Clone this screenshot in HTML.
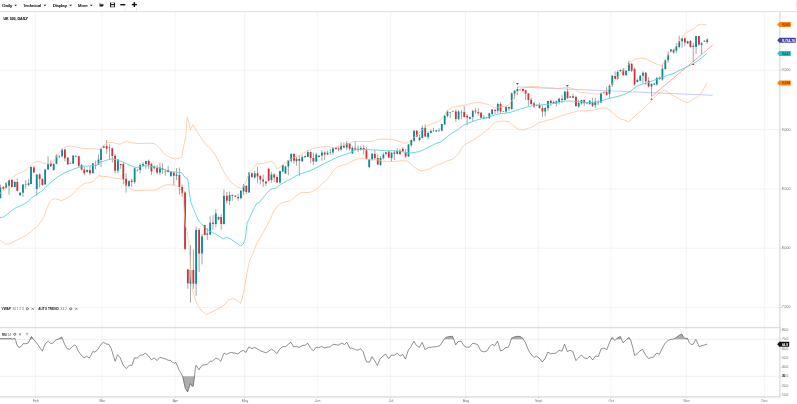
<!DOCTYPE html>
<html><head><meta charset="utf-8"><title>UK 100 Daily</title>
<style>html,body{margin:0;padding:0;background:#fff;overflow:hidden}body{width:797px;height:404px;position:relative;font-family:"Liberation Sans",sans-serif}</style></head>
<body>
<svg width="797" height="404" viewBox="0 0 797 404" style="position:absolute;left:0;top:0;font-family:'Liberation Sans',sans-serif;filter:blur(0.3px)">
<rect width="797" height="404" fill="#fff"/>
<line x1="35.4" y1="11.5" x2="35.4" y2="398" stroke="#ececec" stroke-width="0.6"/>
<line x1="102.1" y1="11.5" x2="102.1" y2="398" stroke="#ececec" stroke-width="0.6"/>
<line x1="175.2" y1="11.5" x2="175.2" y2="398" stroke="#ececec" stroke-width="0.6"/>
<line x1="244.7" y1="11.5" x2="244.7" y2="398" stroke="#ececec" stroke-width="0.6"/>
<line x1="317.4" y1="11.5" x2="317.4" y2="398" stroke="#ececec" stroke-width="0.6"/>
<line x1="390.7" y1="11.5" x2="390.7" y2="398" stroke="#ececec" stroke-width="0.6"/>
<line x1="465.5" y1="11.5" x2="465.5" y2="398" stroke="#ececec" stroke-width="0.6"/>
<line x1="538.3" y1="11.5" x2="538.3" y2="398" stroke="#ececec" stroke-width="0.6"/>
<line x1="610.8" y1="11.5" x2="610.8" y2="398" stroke="#ececec" stroke-width="0.6"/>
<line x1="686.3" y1="11.5" x2="686.3" y2="398" stroke="#ececec" stroke-width="0.6"/>
<line x1="764.4" y1="11.5" x2="764.4" y2="398" stroke="#ececec" stroke-width="0.6"/>
<line x1="0" y1="70.4" x2="779.85" y2="70.4" stroke="#ececec" stroke-width="0.6"/>
<line x1="0" y1="129.6" x2="779.85" y2="129.6" stroke="#ececec" stroke-width="0.6"/>
<line x1="0" y1="188.9" x2="779.85" y2="188.9" stroke="#ececec" stroke-width="0.6"/>
<line x1="0" y1="248.2" x2="779.85" y2="248.2" stroke="#ececec" stroke-width="0.6"/>
<line x1="0" y1="307.5" x2="779.85" y2="307.5" stroke="#ececec" stroke-width="0.6"/>
<line x1="0" y1="339.3" x2="779.85" y2="339.3" stroke="#e2e2e2" stroke-width="0.6"/>
<line x1="0" y1="376.3" x2="779.85" y2="376.3" stroke="#e2e2e2" stroke-width="0.6"/>
<line x1="0" y1="11.6" x2="797" y2="11.6" stroke="#d9d9d9" stroke-width="0.8"/>
<line x1="796.6" y1="1.2" x2="796.6" y2="9.4" stroke="#dcdcdc" stroke-width="0.7"/>
<line x1="779.85" y1="11.5" x2="779.85" y2="397" stroke="#dedede" stroke-width="1.4"/>
<line x1="0" y1="327.7" x2="780.5500000000001" y2="327.7" stroke="#d6d6d6" stroke-width="1.0"/>
<line x1="0" y1="396.8" x2="780.5500000000001" y2="396.8" stroke="#d9d9d9" stroke-width="1.2"/>
<line x1="517.4" y1="86.9" x2="712.7" y2="95.3" stroke="#bcc7f6" stroke-width="0.9"/>
<line x1="651.5" y1="96.6" x2="712.7" y2="45.1" stroke="#ff8080" stroke-width="0.7"/>
<path d="M0.38,184.5V198.3M3.39,185.8V190.2M6.02,182.0V188.9M9.03,179.5V194.5M11.92,178.9V187.6M14.81,180.7V187.6M17.31,178.2V191.4M20.08,192.0V195.4M22.96,183.9V197.1M25.72,180.1V188.9M28.61,178.9V186.4M30.99,166.3V183.9M33.88,165.7V173.2M36.76,174.5V195.8M39.65,173.2V187.6M42.41,178.2V185.8M45.17,168.8V184.5M48.06,156.3V170.1M50.82,160.7V166.9M53.70,163.8V170.7M56.46,154.4V164.4M59.35,155.0V158.2M62.11,148.7V157.5M64.87,148.7V161.3M67.75,157.5V164.4M70.26,162.5V164.1M73.15,155.6V163.8M75.91,155.0V157.5M78.80,155.6V166.9M81.56,163.8V170.7M84.32,166.9V175.1M87.20,169.4V172.6M89.96,166.3V175.1M92.85,163.2V173.2M95.61,160.7V169.4M98.49,154.4V165.1M101.00,148.8V167.0M103.76,145.7V148.2M106.65,140.0V153.8M109.54,144.4V159.5M112.30,147.5V162.6M115.06,153.6V173.3M117.94,159.5V173.6M120.70,163.6V168.9M123.34,162.6V184.4M126.10,173.3V192.6M128.98,180.2V186.3M131.74,178.9V186.9M134.63,167.4V183.9M137.39,168.9V171.4M140.15,163.2V173.6M143.04,162.0V166.4M145.92,160.7V168.9M148.68,159.5V168.9M151.44,163.2V174.9M154.20,165.1V169.5M157.09,165.1V174.5M159.97,162.6V175.2M162.48,163.2V173.9M165.24,168.9V175.8M168.13,165.7V172.6M170.89,171.4V176.4M173.78,172.0V185.1M176.54,168.2V180.2M179.41,167.5V194.4M182.17,184.4V196.9M185.06,191.0V250.0M187.82,268.8V288.8M190.45,245.1V302.6M193.34,249.4V288.8M196.10,226.9V295.8M199.11,228.2V271.9M201.99,233.8V264.5M204.76,225.0V235.1M207.26,228.2V240.1M210.15,216.4V235.2M213.04,215.1V229.6M215.80,209.1V227.1M218.56,216.4V220.2M221.19,213.9V229.9M223.95,189.4V224.5M226.84,191.9V203.8M229.60,191.5V205.1M232.36,194.8V200.7M235.24,195.1V197.3M238.13,193.8V200.7M240.89,190.0V199.4M243.59,183.9V194.9M246.35,185.2V193.9M249.11,172.4V192.7M251.87,172.6V177.6M254.76,170.7V178.9M257.52,167.0V183.3M260.28,175.1V184.5M263.16,174.5V187.0M265.92,180.8V185.8M268.68,168.2V181.4M271.44,172.0V182.6M274.20,173.2V182.0M277.09,175.1V182.6M279.97,170.7V183.9M282.74,165.1V172.0M285.50,165.7V174.1M288.38,160.1V175.1M291.14,153.2V162.6M294.03,153.2V163.8M296.54,156.9V165.7M299.30,155.7V176.4M302.18,155.0V161.9M305.07,155.7V157.5M307.83,150.0V156.9M310.63,151.3V163.2M313.39,152.6V165.1M316.27,152.6V162.0M319.03,155.1V157.6M321.92,150.1V160.7M324.68,151.3V160.1M327.57,150.7V155.1M330.33,148.8V155.1M332.96,146.9V154.5M335.97,146.9V149.4M338.61,146.9V151.3M341.12,142.5V150.7M343.88,142.5V148.2M346.76,141.0V150.1M349.65,143.2V150.7M352.41,146.3V153.8M355.17,141.0V150.1M358.06,145.7V152.0M360.82,145.7V150.7M363.70,145.1V154.5M366.46,146.9V159.5M369.22,158.9V168.3M372.11,153.2V160.7M374.87,150.1V159.5M377.75,154.5V165.1M380.51,156.3V165.8M383.40,152.6V159.5M385.91,152.0V155.1M388.80,151.3V158.2M391.56,152.3V161.4M394.32,150.1V160.1M397.20,148.2V154.5M399.96,148.8V155.1M402.85,146.9V152.0M405.61,148.8V158.2M408.49,144.1V157.0M411.29,139.5V147.0M414.05,130.1V142.0M416.81,130.1V137.0M419.57,134.5V141.4M422.33,125.7V138.2M425.22,124.4V137.0M428.11,131.3V139.5M430.87,129.5V133.2M433.50,127.6V132.0M436.26,130.1V131.9M439.02,128.2V132.0M441.78,123.8V131.3M444.67,115.0V125.1M447.43,110.0V117.5M450.19,111.9V118.2M452.95,110.6V112.0M455.83,109.4V121.9M458.59,110.0V120.1M461.48,109.8V118.8M464.24,106.3V117.5M467.13,114.0V125.7M469.89,116.5V119.4M472.77,109.4V121.3M475.53,108.1V113.8M478.29,108.1V115.7M481.05,111.9V118.6M483.81,115.0V119.4M486.57,116.9V118.6M489.34,112.8V118.8M492.13,108.9V114.9M495.02,108.9V113.9M497.78,102.6V113.3M500.54,102.0V113.3M503.43,110.8V112.0M506.06,106.4V113.3M508.95,106.4V110.8M511.71,92.6V109.9M514.59,90.1V98.8M517.35,86.9V95.1M520.11,88.6V90.3M522.87,88.6V92.6M525.63,89.8V100.1M528.39,93.2V105.7M531.15,97.6V105.1M534.04,101.6V107.9M536.80,104.5V106.4M539.56,102.9V108.6M542.45,105.1V117.0M545.21,107.0V116.4M547.97,100.7V110.8M550.85,99.5V105.7M553.61,100.7V103.9M556.37,100.7V106.4M559.13,97.6V104.5M562.02,95.1V103.2M564.91,91.3V100.7M567.54,88.6V98.8M570.30,96.1V98.1M573.06,93.8V98.2M575.95,95.7V107.0M578.71,100.1V108.2M581.47,99.8V104.5M584.23,99.5V106.1M586.99,102.6V104.5M589.75,100.1V105.1M592.55,97.7V107.1M595.31,97.7V108.2M598.19,100.2V105.2M600.95,92.6V103.3M603.84,91.4V93.9M606.60,87.0V95.8M609.49,84.5V97.7M612.25,75.1V87.0M615.13,71.3V79.5M617.64,70.1V79.5M620.40,69.4V71.9M623.29,68.2V75.7M626.05,70.1V75.7M628.93,60.6V71.3M631.69,63.2V71.9M634.58,67.5V85.7M637.34,78.2V82.6M640.23,75.1V81.3M642.99,71.3V83.9M645.75,71.9V85.1M648.63,77.0V87.4M651.52,83.2V96.4M654.28,82.9V85.1M656.79,77.3V85.7M659.67,76.3V80.1M662.43,65.0V80.7M665.32,59.4V70.1M668.19,51.4V62.7M670.95,48.9V52.0M673.59,48.9V53.9M676.35,43.2V53.2M679.23,35.7V48.2M682.12,37.6V47.6M684.88,37.6V46.3M687.64,40.7V43.8M690.40,40.1V47.6M693.29,43.2V62.0M696.05,36.1V53.9M698.93,36.1V45.7M701.57,42.0V54.1M704.33,40.3V42.0M707.21,38.2V43.6" stroke="#8f8f8f" stroke-width="0.8" fill="none"/>
<path d="M-0.52,187.6h1.8V198.3h-1.8ZM5.12,183.2h1.8V187.6h-1.8ZM8.13,180.1h1.8V185.8h-1.8ZM13.91,182.0h1.8V187.0h-1.8ZM19.18,192.7h1.8V195.2h-1.8ZM22.06,184.5h1.8V192.7h-1.8ZM27.71,183.2h1.8V185.1h-1.8ZM30.09,166.9h1.8V183.9h-1.8ZM35.86,174.5h1.8V188.9h-1.8ZM44.27,169.4h1.8V184.5h-1.8ZM47.16,163.8h1.8V169.4h-1.8ZM52.80,163.8h1.8V170.1h-1.8ZM55.56,155.6h1.8V163.8h-1.8ZM61.21,149.4h1.8V156.3h-1.8ZM72.25,155.6h1.8V163.8h-1.8ZM86.30,170.1h1.8V172.0h-1.8ZM91.95,163.2h1.8V173.2h-1.8ZM97.59,159.4h1.8V164.4h-1.8ZM100.10,148.8h1.8V160.1h-1.8ZM102.86,146.3h1.8V147.8h-1.8ZM117.04,159.5h1.8V170.8h-1.8ZM128.08,181.3h1.8V186.3h-1.8ZM133.73,168.2h1.8V181.9h-1.8ZM139.25,164.9h1.8V170.1h-1.8ZM142.14,163.9h1.8V165.7h-1.8ZM145.02,161.1h1.8V164.1h-1.8ZM159.07,167.6h1.8V172.6h-1.8ZM169.99,171.6h1.8V176.2h-1.8ZM175.64,174.5h1.8V175.8h-1.8ZM189.55,270.0h1.8V283.8h-1.8ZM195.20,230.0h1.8V283.7h-1.8ZM201.09,236.3h1.8V253.6h-1.8ZM206.36,233.6h1.8V234.8h-1.8ZM209.25,222.7h1.8V234.5h-1.8ZM214.90,213.6h1.8V223.9h-1.8ZM217.66,217.0h1.8V219.5h-1.8ZM223.05,195.7h1.8V223.9h-1.8ZM228.70,195.1h1.8V201.1h-1.8ZM231.46,194.8h1.8V195.8h-1.8ZM239.99,190.7h1.8V198.2h-1.8ZM242.69,185.8h1.8V191.4h-1.8ZM248.21,172.6h1.8V192.4h-1.8ZM253.86,173.2h1.8V177.6h-1.8ZM270.54,174.5h1.8V180.1h-1.8ZM279.07,171.1h1.8V182.4h-1.8ZM281.84,165.1h1.8V171.6h-1.8ZM284.60,166.6h1.8V173.6h-1.8ZM287.48,160.3h1.8V166.6h-1.8ZM290.24,154.0h1.8V160.7h-1.8ZM295.64,158.8h1.8V161.3h-1.8ZM301.28,156.9h1.8V161.3h-1.8ZM304.17,156.0h1.8V157.3h-1.8ZM306.93,151.9h1.8V156.9h-1.8ZM315.37,154.5h1.8V161.6h-1.8ZM318.13,155.7h1.8V157.0h-1.8ZM321.02,152.6h1.8V155.7h-1.8ZM326.67,152.8h1.8V154.5h-1.8ZM332.06,147.9h1.8V152.6h-1.8ZM340.22,145.7h1.8V149.4h-1.8ZM345.86,143.2h1.8V147.6h-1.8ZM351.51,147.8h1.8V153.6h-1.8ZM359.92,147.9h1.8V150.1h-1.8ZM368.32,159.5h1.8V167.0h-1.8ZM371.21,153.8h1.8V159.5h-1.8ZM379.61,157.9h1.8V164.9h-1.8ZM382.50,154.5h1.8V158.2h-1.8ZM385.01,152.3h1.8V154.1h-1.8ZM390.66,152.8h1.8V157.9h-1.8ZM396.30,151.1h1.8V154.1h-1.8ZM407.59,144.4h1.8V156.6h-1.8ZM410.39,140.1h1.8V145.2h-1.8ZM413.15,130.7h1.8V140.8h-1.8ZM418.67,137.4h1.8V140.1h-1.8ZM421.43,127.8h1.8V137.9h-1.8ZM427.21,132.9h1.8V137.0h-1.8ZM429.97,131.1h1.8V132.9h-1.8ZM435.36,130.3h1.8V131.6h-1.8ZM440.88,124.1h1.8V130.7h-1.8ZM443.77,115.7h1.8V124.4h-1.8ZM446.53,111.5h1.8V116.0h-1.8ZM457.69,111.5h1.8V119.1h-1.8ZM468.99,116.9h1.8V118.8h-1.8ZM471.87,111.0h1.8V116.9h-1.8ZM482.91,117.5h1.8V118.6h-1.8ZM488.44,113.2h1.8V118.2h-1.8ZM491.23,109.5h1.8V113.9h-1.8ZM496.88,104.1h1.8V110.8h-1.8ZM505.16,107.0h1.8V111.4h-1.8ZM510.81,93.2h1.8V108.9h-1.8ZM513.69,90.7h1.8V93.8h-1.8ZM516.45,89.1h1.8V91.3h-1.8ZM544.31,107.9h1.8V111.6h-1.8ZM547.07,101.1h1.8V108.2h-1.8ZM552.71,102.0h1.8V103.2h-1.8ZM555.47,101.3h1.8V103.6h-1.8ZM558.23,98.8h1.8V102.0h-1.8ZM564.01,91.6h1.8V100.1h-1.8ZM569.40,96.6h1.8V97.6h-1.8ZM577.81,102.9h1.8V106.4h-1.8ZM580.57,100.1h1.8V103.6h-1.8ZM588.85,100.7h1.8V103.9h-1.8ZM594.41,101.4h1.8V105.2h-1.8ZM600.05,93.3h1.8V102.4h-1.8ZM608.59,85.7h1.8V94.1h-1.8ZM611.35,75.7h1.8V85.1h-1.8ZM616.74,71.9h1.8V78.8h-1.8ZM619.50,70.1h1.8V71.3h-1.8ZM625.15,70.7h1.8V75.3h-1.8ZM628.03,63.2h1.8V71.1h-1.8ZM636.44,80.1h1.8V82.0h-1.8ZM639.33,75.7h1.8V80.7h-1.8ZM642.09,72.8h1.8V75.7h-1.8ZM650.62,83.9h1.8V86.4h-1.8ZM653.38,83.6h1.8V84.5h-1.8ZM655.89,77.8h1.8V84.5h-1.8ZM661.53,68.8h1.8V79.5h-1.8ZM664.42,60.0h1.8V69.1h-1.8ZM667.29,54.5h1.8V60.2h-1.8ZM670.05,49.5h1.8V51.4h-1.8ZM672.69,49.5h1.8V52.4h-1.8ZM675.45,46.3h1.8V50.7h-1.8ZM678.33,41.1h1.8V47.0h-1.8ZM681.22,38.6h1.8V41.3h-1.8ZM686.74,41.3h1.8V43.6h-1.8ZM692.39,45.7h1.8V47.0h-1.8ZM695.15,36.1h1.8V47.0h-1.8ZM700.67,43.2h1.8V45.1h-1.8ZM706.31,39.4h1.8V42.0h-1.8Z" fill="#0f8797"/>
<path d="M2.49,187.0h1.8V188.9h-1.8ZM11.02,180.1h1.8V187.0h-1.8ZM16.41,182.0h1.8V190.8h-1.8ZM32.98,167.6h1.8V172.6h-1.8ZM38.75,174.5h1.8V178.9h-1.8ZM41.51,178.9h1.8V185.1h-1.8ZM49.92,163.2h1.8V166.3h-1.8ZM63.97,149.4h1.8V158.2h-1.8ZM66.85,157.5h1.8V164.4h-1.8ZM77.90,156.3h1.8V165.7h-1.8ZM80.66,165.1h1.8V169.4h-1.8ZM83.42,169.4h1.8V173.2h-1.8ZM89.06,170.1h1.8V173.2h-1.8ZM105.75,146.0h1.8V148.8h-1.8ZM111.40,148.2h1.8V156.1h-1.8ZM114.16,155.7h1.8V170.8h-1.8ZM119.80,163.9h1.8V165.1h-1.8ZM122.44,164.1h1.8V179.4h-1.8ZM125.20,178.8h1.8V185.7h-1.8ZM130.84,180.7h1.8V181.9h-1.8ZM147.78,160.7h1.8V165.1h-1.8ZM150.54,164.1h1.8V171.4h-1.8ZM153.30,166.6h1.8V168.2h-1.8ZM156.19,167.9h1.8V172.6h-1.8ZM161.58,168.2h1.8V169.5h-1.8ZM167.23,170.1h1.8V172.0h-1.8ZM172.88,172.4h1.8V175.8h-1.8ZM178.51,175.0h1.8V186.9h-1.8ZM181.27,186.9h1.8V193.2h-1.8ZM184.16,192.5h1.8V248.9h-1.8ZM186.92,269.4h1.8V283.2h-1.8ZM192.44,270.0h1.8V283.8h-1.8ZM198.21,230.0h1.8V253.6h-1.8ZM203.86,225.0h1.8V235.1h-1.8ZM212.14,222.7h1.8V223.9h-1.8ZM220.29,217.0h1.8V223.9h-1.8ZM225.94,195.7h1.8V200.7h-1.8ZM234.34,195.7h1.8V196.7h-1.8ZM237.23,196.9h1.8V198.2h-1.8ZM245.45,185.8h1.8V192.1h-1.8ZM250.97,173.2h1.8V177.0h-1.8ZM256.62,173.2h1.8V176.4h-1.8ZM259.38,176.1h1.8V179.5h-1.8ZM262.26,179.5h1.8V181.6h-1.8ZM265.02,181.6h1.8V183.6h-1.8ZM267.78,168.8h1.8V180.8h-1.8ZM273.30,174.5h1.8V177.6h-1.8ZM276.19,177.0h1.8V182.4h-1.8ZM293.13,154.0h1.8V160.7h-1.8ZM298.40,159.1h1.8V160.7h-1.8ZM309.73,152.0h1.8V157.9h-1.8ZM312.49,157.9h1.8V161.6h-1.8ZM323.78,152.6h1.8V154.5h-1.8ZM335.07,147.8h1.8V149.1h-1.8ZM337.71,148.6h1.8V149.4h-1.8ZM342.98,145.7h1.8V147.6h-1.8ZM348.75,143.6h1.8V148.8h-1.8ZM354.27,148.2h1.8V149.4h-1.8ZM357.16,148.8h1.8V149.8h-1.8ZM362.80,147.9h1.8V150.1h-1.8ZM365.56,150.3h1.8V159.1h-1.8ZM373.97,154.1h1.8V158.2h-1.8ZM376.85,157.9h1.8V164.5h-1.8ZM387.90,151.6h1.8V157.6h-1.8ZM393.42,152.6h1.8V153.8h-1.8ZM399.06,150.7h1.8V154.1h-1.8ZM401.95,148.8h1.8V151.3h-1.8ZM404.71,152.6h1.8V156.6h-1.8ZM415.91,130.7h1.8V136.4h-1.8ZM424.32,127.8h1.8V136.4h-1.8ZM454.93,111.5h1.8V119.1h-1.8ZM463.34,111.9h1.8V116.9h-1.8ZM466.23,116.0h1.8V117.5h-1.8ZM474.63,110.6h1.8V111.5h-1.8ZM477.39,111.9h1.8V113.2h-1.8ZM480.15,112.8h1.8V117.8h-1.8ZM494.12,109.9h1.8V110.9h-1.8ZM499.64,103.9h1.8V111.6h-1.8ZM508.05,107.0h1.8V108.6h-1.8ZM521.97,89.1h1.8V91.1h-1.8ZM524.73,90.3h1.8V93.8h-1.8ZM527.49,93.6h1.8V100.1h-1.8ZM530.25,99.8h1.8V103.9h-1.8ZM533.14,103.2h1.8V106.4h-1.8ZM538.66,104.9h1.8V107.9h-1.8ZM541.55,107.9h1.8V111.6h-1.8ZM549.95,100.7h1.8V102.9h-1.8ZM561.12,98.8h1.8V100.1h-1.8ZM566.64,91.6h1.8V98.2h-1.8ZM572.16,96.3h1.8V97.8h-1.8ZM575.05,97.0h1.8V106.1h-1.8ZM583.33,100.1h1.8V103.2h-1.8ZM591.65,102.1h1.8V105.8h-1.8ZM605.70,92.0h1.8V94.9h-1.8ZM614.23,76.1h1.8V78.8h-1.8ZM622.39,69.8h1.8V75.3h-1.8ZM630.79,63.8h1.8V70.7h-1.8ZM633.68,69.1h1.8V84.5h-1.8ZM644.85,72.8h1.8V81.3h-1.8ZM647.73,80.7h1.8V86.4h-1.8ZM658.77,77.8h1.8V79.1h-1.8ZM683.98,38.2h1.8V42.6h-1.8ZM689.50,41.1h1.8V47.0h-1.8ZM698.03,36.1h1.8V44.5h-1.8ZM703.43,40.7h1.8V41.6h-1.8Z" fill="#cd333b"/>
<rect x="24.82" y="184.0" width="1.8" height="0.6" fill="#0f8797" opacity="0.75"/>
<rect x="58.45" y="156.3" width="1.8" height="0.6" fill="#0f8797" opacity="0.75"/>
<rect x="69.36" y="163.1" width="1.8" height="0.6" fill="#cd333b" opacity="0.75"/>
<rect x="75.01" y="156.0" width="1.8" height="0.6" fill="#0f8797" opacity="0.75"/>
<rect x="94.71" y="165.1" width="1.8" height="0.6" fill="#0f8797" opacity="0.75"/>
<rect x="108.64" y="147.5" width="1.8" height="0.6" fill="#cd333b" opacity="0.75"/>
<rect x="136.49" y="169.9" width="1.8" height="0.6" fill="#0f8797" opacity="0.75"/>
<rect x="164.34" y="171.5" width="1.8" height="0.6" fill="#cd333b" opacity="0.75"/>
<rect x="329.43" y="152.1" width="1.8" height="0.6" fill="#0f8797" opacity="0.75"/>
<rect x="432.60" y="130.5" width="1.8" height="0.6" fill="#0f8797" opacity="0.75"/>
<rect x="438.12" y="130.5" width="1.8" height="0.6" fill="#0f8797" opacity="0.75"/>
<rect x="449.29" y="112.0" width="1.8" height="0.6" fill="#0f8797" opacity="0.75"/>
<rect x="452.05" y="111.0" width="1.8" height="0.6" fill="#cd333b" opacity="0.75"/>
<rect x="460.58" y="112.0" width="1.8" height="0.6" fill="#0f8797" opacity="0.75"/>
<rect x="485.67" y="117.6" width="1.8" height="0.6" fill="#0f8797" opacity="0.75"/>
<rect x="502.53" y="111.1" width="1.8" height="0.6" fill="#0f8797" opacity="0.75"/>
<rect x="519.21" y="89.1" width="1.8" height="0.6" fill="#cd333b" opacity="0.75"/>
<rect x="535.90" y="105.1" width="1.8" height="0.6" fill="#cd333b" opacity="0.75"/>
<rect x="586.09" y="103.2" width="1.8" height="0.6" fill="#cd333b" opacity="0.75"/>
<rect x="597.29" y="102.5" width="1.8" height="0.6" fill="#0f8797" opacity="0.75"/>
<rect x="602.94" y="92.4" width="1.8" height="0.6" fill="#0f8797" opacity="0.75"/>
<path d="M0.0,193.9 L3.8,188.9 L7.5,181.4 L11.3,178.2 L16.3,174.5 L21.3,172.6 L26.3,170.1 L30.1,166.3 L33.9,162.5 L37.6,161.3 L41.4,162.3 L46.4,163.8 L50.2,163.8 L54.0,161.3 L56.5,156.3 L59.0,153.1 L61.5,150.0 L64.0,147.8 L67.8,146.3 L71.5,146.0 L76.5,147.3 L81.6,148.2 L86.6,148.8 L91.6,148.5 L96.6,149.0 L100.0,149.8 L100.0,148.2 L103.8,145.0 L107.5,142.8 L112.5,142.5 L116.3,143.5 L120.1,144.4 L123.2,142.5 L126.3,141.3 L130.1,142.3 L133.9,143.2 L138.9,143.5 L143.9,143.5 L148.9,143.2 L154.0,143.5 L157.1,145.7 L160.2,148.8 L164.0,153.8 L167.8,156.3 L171.5,157.8 L175.3,159.1 L179.0,158.2 L181.8,156.6 L182.9,150.2 L183.9,145.2 L185.8,136.4 L186.6,123.8 L187.4,117.3 L188.9,122.6 L190.4,129.8 L192.0,126.3 L193.3,124.4 L195.8,130.1 L200.2,136.4 L204.0,142.0 L207.1,145.8 L210.2,148.3 L214.6,153.9 L220.0,164.4 L225.0,173.9 L231.3,182.6 L237.6,187.0 L242.0,188.7 L244.5,185.2 L247.0,178.9 L250.1,172.0 L253.9,167.6 L257.0,163.8 L261.4,163.8 L266.4,162.8 L270.8,161.1 L274.0,163.2 L277.1,168.8 L280.2,167.0 L284.0,163.8 L289.0,160.1 L295.3,156.9 L301.6,154.4 L307.8,150.6 L314.1,148.1 L316.3,147.6 L322.5,146.9 L328.8,146.3 L332.0,148.2 L335.1,147.6 L341.4,145.7 L347.6,143.8 L353.9,141.5 L360.2,141.5 L366.5,141.5 L372.7,141.3 L377.8,139.4 L385.3,139.0 L391.6,139.4 L397.8,140.7 L402.8,142.5 L403.8,143.3 L407.5,142.6 L410.7,140.1 L413.8,137.6 L417.6,134.5 L421.3,130.7 L425.1,127.0 L430.1,124.4 L435.1,122.6 L440.0,120.8 L442.5,117.6 L445.6,113.2 L448.8,109.5 L452.5,107.3 L457.6,106.3 L462.6,105.7 L467.6,104.4 L472.6,103.2 L477.6,102.3 L482.7,103.2 L487.7,104.4 L491.4,106.3 L494.6,108.0 L497.7,107.6 L501.5,106.6 L505.2,106.6 L508.4,105.1 L510.3,102.6 L512.8,99.4 L515.3,95.7 L517.8,91.9 L520.3,89.4 L524.1,87.8 L527.8,86.9 L532.8,86.5 L535.2,86.5 L539.6,86.9 L542.7,87.8 L547.7,87.9 L552.7,87.9 L557.8,88.6 L561.5,88.2 L565.3,87.3 L569.0,87.5 L572.8,88.6 L576.6,90.7 L580.3,92.3 L585.0,92.6 L590.0,93.3 L595.1,93.9 L598.8,94.1 L602.0,92.6 L606.3,91.4 L609.5,88.2 L612.6,83.2 L616.4,78.8 L620.2,74.4 L623.9,70.1 L627.7,65.7 L630.2,62.5 L634.0,59.8 L637.7,58.5 L641.5,58.1 L645.2,58.8 L650.3,61.0 L655.0,63.3 L659.4,65.2 L661.9,65.4 L663.8,62.7 L666.3,57.6 L668.8,53.9 L672.0,51.4 L675.1,47.6 L677.6,43.8 L680.7,38.8 L683.9,34.4 L687.6,31.9 L691.4,30.0 L693.9,28.8 L696.4,26.3 L698.9,24.8 L701.4,24.0 L704.0,25.0 L706.5,24.4" fill="none" stroke="#ffc094" stroke-width="0.75" stroke-linejoin="round"/>
<path d="M0.0,239.5 L2.5,242.4 L5.6,243.9 L8.8,244.2 L11.9,242.7 L16.3,240.4 L21.3,237.9 L25.1,236.2 L28.2,233.6 L31.4,231.4 L34.5,228.2 L36.4,227.6 L38.9,224.5 L42.0,220.1 L44.5,215.1 L47.1,208.2 L49.6,201.9 L52.1,199.4 L55.2,198.8 L58.3,199.6 L61.5,200.6 L65.2,199.0 L69.0,196.9 L72.8,193.9 L77.8,188.9 L81.6,185.1 L85.3,183.2 L90.3,182.6 L94.1,180.7 L97.2,177.0 L100.0,175.1 L100.0,176.3 L106.3,176.5 L112.5,177.8 L118.8,178.8 L122.6,179.4 L125.1,183.8 L128.9,187.5 L132.6,189.8 L137.6,190.7 L143.9,190.3 L150.2,190.1 L155.2,190.3 L159.0,188.2 L162.7,186.0 L166.5,184.8 L170.3,184.8 L175.3,185.3 L179.0,186.9 L181.6,191.3 L183.4,200.1 L184.3,212.6 L185.3,225.0 L186.9,230.0 L188.8,245.1 L190.1,257.6 L190.7,277.5 L192.6,290.1 L195.1,298.9 L198.2,306.4 L202.0,311.4 L206.4,314.6 L210.2,312.7 L215.2,310.2 L220.2,307.7 L224.0,305.2 L226.5,302.0 L229.6,299.5 L232.7,298.6 L235.9,299.5 L238.4,301.4 L240.5,303.6 L242.1,298.9 L244.0,290.1 L245.9,278.8 L247.5,270.0 L249.0,262.7 L251.6,256.4 L254.1,250.1 L257.2,242.6 L260.3,237.6 L263.5,231.9 L266.6,226.3 L269.6,220.6 L272.0,215.2 L274.5,210.2 L277.0,206.4 L280.1,203.9 L283.2,202.4 L287.0,201.4 L290.2,201.1 L293.3,198.2 L297.1,195.1 L300.8,192.6 L305.2,192.6 L310.2,192.3 L314.0,190.7 L317.8,188.2 L322.1,183.8 L326.5,180.0 L326.9,179.9 L330.1,175.2 L333.8,170.2 L337.6,167.0 L342.6,165.1 L347.6,163.9 L352.7,160.7 L357.7,158.9 L362.7,158.2 L367.7,159.1 L372.7,159.5 L377.8,159.9 L382.8,161.1 L387.8,161.4 L392.8,161.6 L396.3,161.3 L402.5,160.7 L407.6,161.1 L410.1,163.2 L413.2,166.4 L417.0,168.9 L421.4,170.8 L425.8,169.9 L430.2,168.6 L433.9,166.4 L438.3,164.5 L442.7,163.2 L447.7,160.7 L452.1,159.5 L455.2,157.0 L459.0,153.2 L462.1,147.5 L465.3,144.0 L469.0,142.5 L471.5,140.8 L476.5,137.9 L481.6,134.5 L486.6,130.1 L490.0,127.4 L492.5,124.5 L495.0,122.3 L498.8,121.3 L503.8,121.1 L508.8,121.6 L512.0,124.5 L515.1,127.0 L518.9,129.5 L522.6,129.9 L526.4,128.9 L530.2,127.6 L533.9,126.1 L538.3,122.8 L542.7,121.6 L547.7,120.1 L552.7,119.1 L557.8,116.9 L562.8,115.3 L567.8,113.8 L572.8,112.3 L577.8,111.0 L583.1,110.8 L586.3,110.7 L592.5,110.1 L596.3,109.5 L599.4,108.2 L603.2,108.0 L607.0,108.2 L610.1,110.7 L613.9,113.9 L617.6,117.0 L620.8,119.1 L624.5,120.1 L628.3,121.6 L631.4,119.5 L635.2,115.7 L639.0,112.4 L642.7,109.5 L646.5,105.7 L650.3,101.9 L654.0,97.5 L657.8,94.0 L661.6,91.5 L664.7,90.3 L667.8,91.9 L671.6,94.8 L676.6,97.5 L680.0,99.1 L683.2,101.2 L687.0,102.7 L690.2,101.2 L693.9,99.1 L697.7,97.0 L700.2,94.5 L702.7,90.7 L705.2,86.3 L706.8,82.8" fill="none" stroke="#ffc094" stroke-width="0.75" stroke-linejoin="round"/>
<path d="M0.0,217.3 L3.1,217.3 L6.3,215.1 L9.4,212.3 L12.5,209.8 L16.3,207.5 L21.3,205.3 L25.1,203.5 L28.9,200.6 L32.0,197.5 L33.9,196.4 L37.6,193.7 L41.4,191.4 L45.2,187.6 L48.9,183.9 L52.7,180.7 L57.7,177.0 L62.7,173.8 L67.8,171.3 L72.8,169.4 L77.8,167.6 L82.8,166.3 L87.8,166.1 L92.8,165.7 L96.6,165.1 L100.0,162.0 L103.8,161.1 L107.5,159.8 L111.3,159.1 L115.1,159.5 L118.8,160.7 L122.6,162.0 L126.3,163.6 L130.1,165.4 L133.9,167.0 L137.6,167.4 L141.4,166.4 L145.2,165.7 L148.9,166.1 L152.7,166.6 L156.5,167.4 L160.2,168.2 L164.0,169.5 L167.8,170.8 L171.5,171.6 L175.3,172.1 L179.0,172.4 L181.6,172.6 L183.4,175.2 L185.3,177.7 L187.2,178.3 L188.2,181.4 L188.5,183.8 L189.7,195.0 L191.0,202.6 L193.5,208.9 L196.6,216.4 L198.2,220.0 L201.4,223.8 L205.1,227.5 L208.9,230.7 L212.7,232.5 L216.4,234.4 L220.2,236.9 L223.3,238.8 L226.5,237.2 L230.2,238.8 L234.0,241.3 L237.8,243.8 L240.9,246.1 L243.4,243.8 L245.3,238.8 L246.2,231.3 L247.2,222.7 L250.0,217.1 L251.9,212.7 L254.4,207.6 L256.9,203.2 L259.4,202.4 L262.5,198.2 L266.3,193.8 L270.1,189.8 L272.6,188.6 L276.3,187.8 L280.1,184.8 L283.9,182.5 L287.6,180.7 L291.4,178.8 L295.2,176.3 L298.9,174.4 L302.7,173.1 L307.7,171.5 L310.0,170.8 L315.0,168.3 L320.0,165.8 L325.1,163.2 L330.1,160.7 L335.1,158.2 L340.1,156.3 L345.1,154.5 L350.2,152.6 L353.3,150.7 L356.4,149.8 L362.7,149.4 L370.2,149.8 L377.8,150.1 L385.3,150.7 L392.8,150.7 L400.3,151.3 L405.0,152.4 L410.0,152.9 L415.1,152.4 L420.1,151.4 L425.1,148.9 L430.1,146.4 L435.1,143.9 L440.2,142.0 L443.9,139.5 L447.7,136.4 L451.4,133.6 L455.2,131.3 L459.0,128.8 L462.7,125.7 L466.5,123.8 L471.5,121.9 L476.5,120.1 L481.6,118.8 L487.8,117.5 L490.0,116.4 L495.0,114.9 L500.0,113.6 L505.1,113.3 L510.1,112.4 L515.1,110.8 L520.1,109.1 L525.1,107.6 L530.2,106.1 L535.2,105.1 L540.2,104.9 L545.2,104.6 L550.2,104.1 L555.2,103.2 L560.3,102.0 L565.3,101.1 L570.3,101.1 L575.3,101.3 L580.3,101.6 L585.0,102.4 L590.0,102.7 L595.1,102.4 L600.1,101.4 L605.1,99.5 L610.1,98.3 L615.1,97.0 L620.2,95.8 L625.2,94.1 L630.2,91.4 L634.0,88.2 L637.7,85.7 L642.7,84.1 L647.8,82.9 L652.8,80.7 L657.8,78.8 L662.8,77.0 L667.8,75.1 L672.8,73.8 L676.6,71.9 L680.0,70.1 L686.3,67.2 L692.3,64.2 L697.3,61.2 L702.3,57.2 L706.7,53.6" fill="none" stroke="#58d5d5" stroke-width="0.9" stroke-linejoin="round"/>
<path d="M516.0,82.9h2.8L517.4,84.9Z" fill="#118c11"/>
<path d="M566.0,85.0h2.8L567.4,87.0Z" fill="#118c11"/>
<path d="M650.3,99.8h2.4L651.5,98.0Z" fill="#f0141e"/>
<path d="M692.1,65.1h2.4L693.3,63.3Z" fill="#f0141e"/>
<path d="M0.0,339.3 L0.0,338.7 L11.3,338.7 L12.5,339.0 L14.8,338.3 L15.2,339.3Z" fill="#adadad"/>
<path d="M30.1,339.3 L31.4,336.5 L32.9,338.7 L33.4,339.3Z" fill="#adadad"/>
<path d="M58.0,339.3 L59.0,339.0 L61.5,337.0 L62.7,339.3 L62.7,339.3Z" fill="#adadad"/>
<path d="M444.0,339.3 L444.4,338.7 L446.9,337.0 L450.0,336.5 L452.5,336.3 L453.8,339.3 L453.8,339.3Z" fill="#adadad"/>
<path d="M511.2,339.3 L511.5,338.3 L514.0,337.0 L517.2,336.3 L520.3,336.5 L522.8,338.3 L523.4,339.3Z" fill="#adadad"/>
<path d="M611.2,339.3 L612.1,337.4 L613.8,339.3Z" fill="#adadad"/>
<path d="M616.1,339.3 L617.5,337.8 L620.3,336.5 L621.5,339.3Z" fill="#adadad"/>
<path d="M626.9,339.3 L628.8,337.4 L630.2,339.3Z" fill="#adadad"/>
<path d="M671.3,339.3 L671.4,339.3 L673.9,339.0 L676.4,337.4 L679.1,335.3 L681.7,334.0 L683.7,337.4 L685.4,338.7 L687.4,338.3 L687.9,339.3Z" fill="#adadad"/>
<path d="M695.8,339.3 L695.8,339.3 L695.8,339.3Z" fill="#adadad"/>
<path d="M182.5,376.3 L182.8,377.0 L184.1,383.2 L185.3,388.3 L187.6,392.0 L189.1,387.6 L190.3,383.6 L191.6,385.8 L193.2,386.4 L194.5,377.0 L194.5,376.3Z" fill="#adadad"/>
<path d="M0.0,338.7 L11.3,338.7 L12.5,339.0 L14.8,338.3 L15.7,340.5 L16.9,344.9 L18.8,347.4 L20.7,346.8 L23.2,343.7 L25.7,343.7 L28.2,343.1 L29.9,339.9 L31.4,336.5 L32.9,338.7 L35.1,341.2 L37.6,344.3 L40.2,348.1 L42.4,351.2 L43.9,346.8 L45.8,343.1 L48.3,341.2 L50.8,343.7 L53.3,342.8 L55.8,339.9 L59.0,339.0 L61.5,337.0 L62.7,339.3 L64.6,344.3 L67.1,348.7 L69.6,349.3 L72.1,346.8 L74.7,344.9 L76.3,346.2 L78.4,351.2 L80.9,354.6 L84.1,357.9 L86.6,356.2 L89.3,358.1 L91.0,355.0 L92.8,351.6 L94.7,352.1 L97.2,350.3 L99.1,347.4 L100.0,346.0 L101.5,343.8 L103.5,342.3 L106.3,344.0 L109.0,344.4 L111.3,348.8 L113.2,355.1 L115.1,361.3 L117.6,354.8 L120.1,357.6 L123.2,365.1 L126.3,368.6 L129.5,365.1 L132.0,365.4 L134.5,357.8 L137.0,358.2 L140.2,355.3 L142.7,354.8 L145.4,353.2 L148.3,355.7 L151.4,359.8 L154.2,358.0 L157.1,360.5 L160.0,357.3 L162.7,358.2 L165.9,359.1 L168.8,360.5 L170.0,360.0 L172.5,362.3 L174.4,363.2 L176.0,362.5 L177.5,366.3 L179.4,370.7 L181.5,373.8 L182.8,377.0 L184.1,383.2 L185.3,388.3 L187.6,392.0 L189.1,387.6 L190.3,383.6 L191.6,385.8 L193.2,386.4 L194.5,377.0 L195.3,368.8 L196.1,365.3 L197.6,367.6 L198.9,369.8 L200.7,366.9 L202.6,365.1 L207.0,364.4 L210.2,361.5 L212.7,361.0 L215.8,358.2 L218.3,359.0 L220.8,361.3 L222.7,356.3 L224.2,353.1 L226.5,354.4 L229.0,353.1 L231.5,352.5 L234.6,353.1 L237.8,354.0 L240.0,352.1 L243.1,350.3 L246.0,352.5 L247.5,349.3 L249.0,346.8 L251.9,348.7 L254.8,347.4 L257.6,349.1 L260.7,350.8 L263.2,351.8 L265.7,352.8 L268.2,351.6 L271.4,349.1 L273.9,350.6 L277.0,353.7 L279.5,349.3 L282.7,346.6 L285.4,346.8 L288.3,344.3 L290.8,342.2 L293.7,346.8 L296.5,346.6 L299.2,347.4 L302.1,345.6 L305.0,345.3 L307.8,343.3 L310.5,348.1 L313.4,350.8 L315.9,347.4 L318.4,347.8 L321.6,346.4 L324.3,347.8 L327.2,347.2 L330.3,346.8 L333.1,344.3 L336.0,344.6 L337.9,345.3 L340.0,344.1 L341.9,343.1 L344.4,344.6 L346.9,342.2 L349.8,348.1 L352.5,348.3 L355.3,349.6 L357.8,350.3 L360.7,348.7 L363.2,351.8 L365.1,358.1 L366.6,361.9 L369.5,362.1 L372.0,356.6 L374.5,360.6 L377.4,365.4 L380.2,358.7 L382.9,356.2 L385.8,354.1 L388.7,358.7 L391.4,355.0 L394.2,355.4 L397.1,353.1 L400.0,356.2 L402.5,354.3 L405.5,359.1 L408.4,350.0 L410.9,346.8 L413.8,341.2 L416.5,345.6 L419.3,347.4 L422.2,342.4 L425.1,349.6 L428.5,347.4 L432.8,347.1 L436.6,346.6 L440.0,345.6 L442.3,342.1 L444.4,338.7 L446.9,337.0 L450.0,336.5 L452.5,336.3 L453.8,339.3 L455.7,344.9 L458.2,341.6 L461.1,341.2 L463.8,345.6 L466.3,347.1 L469.5,347.1 L472.6,343.3 L475.1,343.7 L477.6,344.6 L480.8,350.8 L483.9,351.8 L486.7,351.2 L489.6,346.8 L492.1,344.3 L494.6,345.8 L497.5,341.2 L499.0,345.6 L500.5,350.8 L502.7,350.3 L505.2,347.8 L508.4,347.1 L510.0,343.1 L511.5,338.3 L514.0,337.0 L517.2,336.3 L520.3,336.5 L522.8,338.3 L525.3,342.4 L527.8,348.7 L529.7,352.5 L532.2,355.6 L534.1,357.5 L536.4,356.2 L538.5,357.5 L540.0,359.1 L542.3,361.9 L545.0,358.7 L547.8,352.1 L550.7,353.7 L553.2,353.5 L556.1,353.1 L559.1,350.3 L562.0,351.2 L564.5,344.1 L567.4,351.6 L570.1,350.3 L572.9,351.6 L575.8,360.6 L578.6,357.9 L581.4,355.0 L584.2,357.9 L587.1,358.5 L589.9,356.2 L592.7,360.0 L595.5,355.9 L598.3,356.6 L601.2,348.7 L604.0,348.1 L606.8,349.6 L609.6,342.4 L612.1,337.4 L614.9,340.5 L617.5,337.8 L620.3,336.5 L623.1,342.8 L625.9,340.3 L628.8,337.4 L630.6,339.9 L632.6,346.8 L634.7,355.6 L637.2,353.7 L640.0,350.8 L642.5,349.3 L645.6,355.0 L648.5,358.5 L651.3,357.5 L653.6,357.1 L656.6,353.1 L659.4,354.3 L662.3,348.1 L665.1,343.1 L668.2,340.3 L671.4,339.3 L673.9,339.0 L676.4,337.4 L679.1,335.3 L681.7,334.0 L683.7,337.4 L685.4,338.7 L687.4,338.3 L689.2,342.4 L691.2,344.6 L693.3,344.1 L695.8,339.3 L697.5,342.8 L699.2,346.6 L702.1,345.6 L704.6,344.9 L707.1,344.1" fill="none" stroke="#4a4a4a" stroke-width="0.62" stroke-linejoin="round"/>
<line x1="779.85" y1="70.4" x2="781.45" y2="70.4" stroke="#bbb" stroke-width="0.5"/>
<text transform="translate(781.7,71.30000000000001) scale(0.05)" font-size="72.0" fill="#666" font-weight="normal" text-anchor="start" textLength="174.0" lengthAdjust="spacingAndGlyphs" >9,500</text>
<line x1="779.85" y1="129.6" x2="781.45" y2="129.6" stroke="#bbb" stroke-width="0.5"/>
<text transform="translate(781.7,130.5) scale(0.05)" font-size="72.0" fill="#666" font-weight="normal" text-anchor="start" textLength="174.0" lengthAdjust="spacingAndGlyphs" >9,000</text>
<line x1="779.85" y1="188.9" x2="781.45" y2="188.9" stroke="#bbb" stroke-width="0.5"/>
<text transform="translate(781.7,189.8) scale(0.05)" font-size="72.0" fill="#666" font-weight="normal" text-anchor="start" textLength="174.0" lengthAdjust="spacingAndGlyphs" >8,500</text>
<line x1="779.85" y1="248.2" x2="781.45" y2="248.2" stroke="#bbb" stroke-width="0.5"/>
<text transform="translate(781.7,249.1) scale(0.05)" font-size="72.0" fill="#666" font-weight="normal" text-anchor="start" textLength="174.0" lengthAdjust="spacingAndGlyphs" >8,000</text>
<line x1="779.85" y1="307.5" x2="781.45" y2="307.5" stroke="#bbb" stroke-width="0.5"/>
<text transform="translate(781.7,308.4) scale(0.05)" font-size="72.0" fill="#666" font-weight="normal" text-anchor="start" textLength="174.0" lengthAdjust="spacingAndGlyphs" >7,500</text>
<line x1="779.85" y1="330.1" x2="781.45" y2="330.1" stroke="#bbb" stroke-width="0.5"/>
<text transform="translate(781.9,331.1) scale(0.05)" font-size="72.0" fill="#666" font-weight="normal" text-anchor="start" textLength="128.0" lengthAdjust="spacingAndGlyphs" >80.0</text>
<line x1="779.85" y1="339.3" x2="781.45" y2="339.3" stroke="#bbb" stroke-width="0.5"/>
<text transform="translate(781.9,340.3) scale(0.05)" font-size="72.0" fill="#666" font-weight="normal" text-anchor="start" textLength="128.0" lengthAdjust="spacingAndGlyphs" >70.0</text>
<line x1="779.85" y1="348.6" x2="781.45" y2="348.6" stroke="#bbb" stroke-width="0.5"/>
<text transform="translate(781.9,349.6) scale(0.05)" font-size="72.0" fill="#666" font-weight="normal" text-anchor="start" textLength="128.0" lengthAdjust="spacingAndGlyphs" >60.0</text>
<line x1="779.85" y1="357.8" x2="781.45" y2="357.8" stroke="#bbb" stroke-width="0.5"/>
<text transform="translate(781.9,358.8) scale(0.05)" font-size="72.0" fill="#666" font-weight="normal" text-anchor="start" textLength="128.0" lengthAdjust="spacingAndGlyphs" >50.0</text>
<line x1="779.85" y1="367.1" x2="781.45" y2="367.1" stroke="#bbb" stroke-width="0.5"/>
<text transform="translate(781.9,368.1) scale(0.05)" font-size="72.0" fill="#666" font-weight="normal" text-anchor="start" textLength="128.0" lengthAdjust="spacingAndGlyphs" >40.0</text>
<line x1="779.85" y1="376.3" x2="781.45" y2="376.3" stroke="#bbb" stroke-width="0.5"/>
<text transform="translate(781.9,377.3) scale(0.05)" font-size="72.0" fill="#666" font-weight="normal" text-anchor="start" textLength="128.0" lengthAdjust="spacingAndGlyphs" >30.0</text>
<line x1="779.85" y1="385.6" x2="781.45" y2="385.6" stroke="#bbb" stroke-width="0.5"/>
<text transform="translate(781.9,386.6) scale(0.05)" font-size="72.0" fill="#666" font-weight="normal" text-anchor="start" textLength="128.0" lengthAdjust="spacingAndGlyphs" >20.0</text>
<line x1="779.85" y1="394.8" x2="781.45" y2="394.8" stroke="#bbb" stroke-width="0.5"/>
<text transform="translate(781.9,395.8) scale(0.05)" font-size="72.0" fill="#666" font-weight="normal" text-anchor="start" textLength="128.0" lengthAdjust="spacingAndGlyphs" >10.0</text>
<text transform="translate(781.9,377.3) scale(0.05)" font-size="72.0" fill="#333" font-weight="bold" text-anchor="start" textLength="64.0" lengthAdjust="spacingAndGlyphs" >30</text>
<text transform="translate(35.699999999999996,402.0) scale(0.05)" font-size="70.0" fill="#707070" font-weight="normal" text-anchor="middle" >Feb</text>
<line x1="35.4" y1="397" x2="35.4" y2="398.6" stroke="#c4c4c4" stroke-width="0.5"/>
<text transform="translate(102.39999999999999,402.0) scale(0.05)" font-size="70.0" fill="#707070" font-weight="normal" text-anchor="middle" >Mar</text>
<line x1="102.1" y1="397" x2="102.1" y2="398.6" stroke="#c4c4c4" stroke-width="0.5"/>
<text transform="translate(175.5,402.0) scale(0.05)" font-size="70.0" fill="#707070" font-weight="normal" text-anchor="middle" >Apr</text>
<line x1="175.2" y1="397" x2="175.2" y2="398.6" stroke="#c4c4c4" stroke-width="0.5"/>
<text transform="translate(245.0,402.0) scale(0.05)" font-size="70.0" fill="#707070" font-weight="normal" text-anchor="middle" >May</text>
<line x1="244.7" y1="397" x2="244.7" y2="398.6" stroke="#c4c4c4" stroke-width="0.5"/>
<text transform="translate(317.7,402.0) scale(0.05)" font-size="70.0" fill="#707070" font-weight="normal" text-anchor="middle" >Jun</text>
<line x1="317.4" y1="397" x2="317.4" y2="398.6" stroke="#c4c4c4" stroke-width="0.5"/>
<text transform="translate(391.0,402.0) scale(0.05)" font-size="70.0" fill="#707070" font-weight="normal" text-anchor="middle" >Jul</text>
<line x1="390.7" y1="397" x2="390.7" y2="398.6" stroke="#c4c4c4" stroke-width="0.5"/>
<text transform="translate(465.8,402.0) scale(0.05)" font-size="70.0" fill="#707070" font-weight="normal" text-anchor="middle" >Aug</text>
<line x1="465.5" y1="397" x2="465.5" y2="398.6" stroke="#c4c4c4" stroke-width="0.5"/>
<text transform="translate(538.5999999999999,402.0) scale(0.05)" font-size="70.0" fill="#707070" font-weight="normal" text-anchor="middle" >Sept</text>
<line x1="538.3" y1="397" x2="538.3" y2="398.6" stroke="#c4c4c4" stroke-width="0.5"/>
<text transform="translate(611.0999999999999,402.0) scale(0.05)" font-size="70.0" fill="#707070" font-weight="normal" text-anchor="middle" >Oct</text>
<line x1="610.8" y1="397" x2="610.8" y2="398.6" stroke="#c4c4c4" stroke-width="0.5"/>
<text transform="translate(686.5999999999999,402.0) scale(0.05)" font-size="70.0" fill="#707070" font-weight="normal" text-anchor="middle" >Nov</text>
<line x1="686.3" y1="397" x2="686.3" y2="398.6" stroke="#c4c4c4" stroke-width="0.5"/>
<text transform="translate(764.6999999999999,402.0) scale(0.05)" font-size="70.0" fill="#707070" font-weight="normal" text-anchor="middle" >Dec</text>
<line x1="764.4" y1="397" x2="764.4" y2="398.6" stroke="#c4c4c4" stroke-width="0.5"/>
<path d="M777.2,24.5L779.4,22.0H790.4Q790.9,22.0 790.9,22.5V26.5Q790.9,27.0 790.4,27.0H779.4Z" fill="#ff8105"/><text transform="translate(781.9,25.8) scale(0.05)" font-size="74.0" fill="#8a3d00" font-weight="normal" text-anchor="start" textLength="162.0" lengthAdjust="spacingAndGlyphs" stroke="#8a3d00" stroke-width="2.0" >9,888</text>
<path d="M777.2,40.35L779.4,37.85H795.3Q795.8,37.85 795.8,38.35V42.35Q795.8,42.85 795.3,42.85H779.4Z" fill="#4a43a6"/><text transform="translate(781.9,41.65) scale(0.05)" font-size="74.0" fill="#fff" font-weight="normal" text-anchor="start" textLength="262.0" lengthAdjust="spacingAndGlyphs" stroke="#fff" stroke-width="2.0" >9,734.70</text>
<path d="M777.2,53.6L779.4,51.1H790.4Q790.9,51.1 790.9,51.6V55.6Q790.9,56.1 790.4,56.1H779.4Z" fill="#27c2c4"/><text transform="translate(781.9,54.9) scale(0.05)" font-size="74.0" fill="#0a5a5c" font-weight="normal" text-anchor="start" textLength="162.0" lengthAdjust="spacingAndGlyphs" stroke="#0a5a5c" stroke-width="2.0" >9,641</text>
<path d="M777.2,82.9L779.4,80.4H790.4Q790.9,80.4 790.9,80.9V84.9Q790.9,85.4 790.4,85.4H779.4Z" fill="#ff8105"/><text transform="translate(781.9,84.2) scale(0.05)" font-size="74.0" fill="#8a3d00" font-weight="normal" text-anchor="start" textLength="162.0" lengthAdjust="spacingAndGlyphs" stroke="#8a3d00" stroke-width="2.0" >9,394</text>
<path d="M777.2,344.2L779.4,341.75H788.7Q789.2,341.75 789.2,342.25V346.15Q789.2,346.65 788.7,346.65H779.4Z" fill="#111"/><text transform="translate(781.9,345.5) scale(0.05)" font-size="74.0" fill="#fff" font-weight="normal" text-anchor="start" textLength="120.0" lengthAdjust="spacingAndGlyphs" stroke="#fff" stroke-width="2.0" >64.9</text>
<text transform="translate(2.3,6.6) scale(0.05)" font-size="82.0" fill="#222" font-weight="normal" text-anchor="start" textLength="198.0" lengthAdjust="spacingAndGlyphs" stroke="#222" stroke-width="3.4000000000000004" >Daily</text>
<path d="M14.200000000000001,4.7h2.9l-1.45,1.6Z" fill="#2a2a2a"/>
<text transform="translate(23.0,6.6) scale(0.05)" font-size="82.0" fill="#222" font-weight="normal" text-anchor="start" textLength="360.0" lengthAdjust="spacingAndGlyphs" stroke="#222" stroke-width="3.4000000000000004" >Technical</text>
<path d="M43.5,4.7h2.9l-1.45,1.6Z" fill="#2a2a2a"/>
<text transform="translate(52.7,6.6) scale(0.05)" font-size="82.0" fill="#222" font-weight="normal" text-anchor="start" textLength="282.0" lengthAdjust="spacingAndGlyphs" stroke="#222" stroke-width="3.4000000000000004" >Display</text>
<path d="M69.2,4.7h2.9l-1.45,1.6Z" fill="#2a2a2a"/>
<text transform="translate(78.1,6.6) scale(0.05)" font-size="82.0" fill="#222" font-weight="normal" text-anchor="start" textLength="188.0" lengthAdjust="spacingAndGlyphs" stroke="#222" stroke-width="3.4000000000000004" >More</text>
<path d="M89.9,4.7h2.9l-1.45,1.6Z" fill="#2a2a2a"/>
<path d="M99.2,3.2h1.5l0.4,0.5h1.6v2.0h-3.5Z" fill="#8a8a8a"/><path d="M99.3,6.6l1.3,-2.2h3.4l-1.3,2.2Z" fill="#1a1a1a"/>
<path d="M110.0,2.5h4.3l0.8,0.8v3.9h-5.1Z" fill="#222"/><rect x="111.2" y="2.5" width="2.6" height="1.5" fill="#fff"/><rect x="111.0" y="5.2" width="3.1" height="1.4" fill="#fff"/>
<rect x="120.3" y="4.0" width="5.0" height="1.4" fill="#111"/>
<rect x="131.8" y="3.9" width="5.1" height="1.4" fill="#111"/><rect x="133.65" y="2.1" width="1.4" height="4.9" fill="#111"/>
<line x1="125" y1="8.2" x2="125" y2="11.3" stroke="#d8d8d8" stroke-width="0.5"/><line x1="136.5" y1="8.2" x2="136.5" y2="11.3" stroke="#d8d8d8" stroke-width="0.5"/>
<text transform="translate(3.5,20.45) scale(0.05)" font-size="78.0" fill="#222" font-weight="bold" text-anchor="start" textLength="488.0" lengthAdjust="spacingAndGlyphs" stroke="#222" stroke-width="2.4" >UK 100, DAILY</text>
<text transform="translate(1.5,310.0) scale(0.05)" font-size="70.0" fill="#222" font-weight="bold" text-anchor="start" textLength="190.0" lengthAdjust="spacingAndGlyphs" >VWAP</text>
<text transform="translate(12.5,310.0) scale(0.05)" font-size="70.0" fill="#5c5c5c" font-weight="normal" text-anchor="start" textLength="226.0" lengthAdjust="spacingAndGlyphs" >20 1 2 3</text>
<circle cx="27.4" cy="308.8" r="1.05" fill="none" stroke="#444" stroke-width="0.7"/>
<path d="M31.55,307.75l2.1,2.1M33.65,307.75l-2.1,2.1" stroke="#444" stroke-width="0.55"/>
<text transform="translate(38.3,310.0) scale(0.05)" font-size="70.0" fill="#222" font-weight="bold" text-anchor="start" textLength="408.0" lengthAdjust="spacingAndGlyphs" >AUTO TREND</text>
<text transform="translate(60.2,310.0) scale(0.05)" font-size="70.0" fill="#5c5c5c" font-weight="normal" text-anchor="start" textLength="138.0" lengthAdjust="spacingAndGlyphs" >3 4 2</text>
<circle cx="70.7" cy="308.8" r="1.05" fill="none" stroke="#444" stroke-width="0.7"/>
<path d="M75.25,307.75l2.1,2.1M77.35,307.75l-2.1,2.1" stroke="#444" stroke-width="0.55"/>
<text transform="translate(1.9,335.5) scale(0.05)" font-size="70.0" fill="#222" font-weight="bold" text-anchor="start" textLength="92.0" lengthAdjust="spacingAndGlyphs" >RSI</text>
<text transform="translate(7.3,335.5) scale(0.05)" font-size="70.0" fill="#5c5c5c" font-weight="normal" text-anchor="start" textLength="74.0" lengthAdjust="spacingAndGlyphs" >14</text>
<circle cx="14.8" cy="334.3" r="1.05" fill="none" stroke="#444" stroke-width="0.7"/>
<path d="M18.95,333.25l2.1,2.1M21.05,333.25l-2.1,2.1" stroke="#444" stroke-width="0.55"/>
<path d="M27,335.6v-2.6M25.9,334.1l1.1,-1.2l1.1,1.2" stroke="#666" stroke-width="0.45" fill="none"/>
</svg>
</body></html>
